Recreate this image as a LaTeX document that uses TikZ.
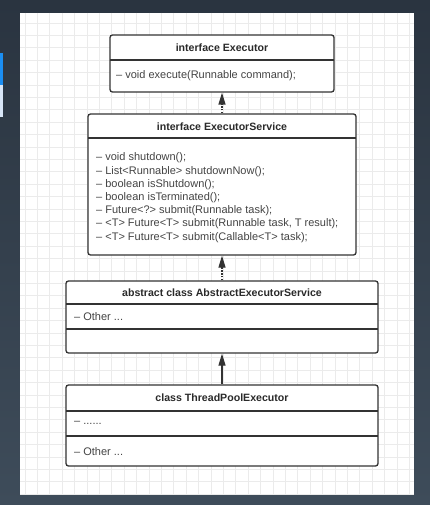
\documentclass[tikz,border=0pt]{standalone}
\usepackage{fontspec}
\setmainfont{Liberation Sans}
\usetikzlibrary{arrows.meta}
\definecolor{bgtop}{HTML}{2A3440}
\definecolor{bgbot}{HTML}{3E4C5A}
\definecolor{gridc}{HTML}{EBEBEB}
\definecolor{boxline}{HTML}{333333}
\definecolor{txt}{HTML}{444444}
\definecolor{hdr}{HTML}{2A2A2A}
\definecolor{sideblue}{HTML}{1B8EF2}
\definecolor{sidelight}{HTML}{D8E6F7}
\tikzset{
  classbox/.style={draw=boxline, line width=1.3pt, rounded corners=2.5pt, fill=white, inner sep=0pt},
  divider/.style={draw=boxline, line width=1.3pt},
  hdrtext/.style={text=hdr, font=\fontsize{10.6}{12}\selectfont\bfseries, inner sep=0pt},
  mtext/.style={text=txt, font=\fontsize{11}{12}\selectfont, inner sep=0pt, anchor=west},
  gridline/.style={draw=gridc, line width=0.7pt},
  realize/.style={draw=boxline, line width=1.3pt, dash pattern=on 1.3pt off 1.6pt, -{Triangle[length=12pt,width=7pt]}},
  inherit/.style={draw=boxline, line width=1.3pt, -{Triangle[length=12pt,width=7pt]}}
}
\begin{document}
\begin{tikzpicture}[x=1pt,y=-1pt]
\useasboundingbox (0,0) rectangle (430,505);
\shade[top color=bgtop, bottom color=bgbot] (0,0) rectangle (430,505);
\fill[sideblue] (0,53) rectangle (3,85);
\fill[sidelight] (0,85) rectangle (3,117);
\fill[white] (20,13) rectangle (414,495);
\begin{scope}
  \clip (20,13) rectangle (414,495);
  \foreach \i in {0,...,32} \draw[gridline] ({25+12.4*\i},13) -- ({25+12.4*\i},495);
  \foreach \j in {0,...,39} \draw[gridline] (20,{23+12.4*\j}) -- (414,{23+12.4*\j});
\end{scope}

% interface Executor
\node[classbox, minimum width=224pt, minimum height=57pt] (exec) at (222,63.5) {};
\draw[divider] (110,60) -- (334,60);
\node[hdrtext] (execH) at (222,48) {interface Executor};
\node[mtext] (execM1) at (116,76) {– void execute(Runnable command);};

% interface ExecutorService
\node[classbox, minimum width=268pt, minimum height=141pt] (svc) at (222,184.5) {};
\draw[divider] (88,138) -- (356,138);
\node[hdrtext] (svcH) at (222,127) {interface ExecutorService};
\node[mtext] (svcM1) at (96,158) {– void shutdown();};
\node[mtext] (svcM2) at (96,171.2) {– List<Runnable> shutdownNow();};
\node[mtext] (svcM3) at (96,184.4) {– boolean isShutdown();};
\node[mtext] (svcM4) at (96,197.6) {– boolean isTerminated();};
\node[mtext] (svcM5) at (96,210.8) {– Future<?> submit(Runnable task);};
\node[mtext] (svcM6) at (96,224) {– <T> Future<T> submit(Runnable task, T result);};
\node[mtext] (svcM7) at (96,237.2) {– <T> Future<T> submit(Callable<T> task);};

% abstract class AbstractExecutorService
\node[classbox, minimum width=312pt, minimum height=72pt] (abs) at (222,317) {};
\draw[divider] (66,304) -- (378,304);
\draw[divider] (66,329) -- (378,329);
\node[hdrtext] (absH) at (222,293) {abstract class AbstractExecutorService};
\node[mtext] (absM1) at (74,317) {– Other ...};

% class ThreadPoolExecutor
\node[classbox, minimum width=312pt, minimum height=81pt] (tpe) at (222,425.5) {};
\draw[divider] (66,411) -- (378,411);
\draw[divider] (66,436) -- (378,436);
\node[hdrtext] (tpeH) at (222,398) {class ThreadPoolExecutor};
\node[mtext] (tpeM1) at (74,423) {– ......};
\node[mtext] (tpeM2) at (74,452) {– Other ...};

% connectors
\draw[realize] (svc.north) -- (exec.south);
\draw[realize] (abs.north) -- (svc.south);
\draw[inherit] (tpe.north) -- (abs.south);
\end{tikzpicture}
\end{document}
